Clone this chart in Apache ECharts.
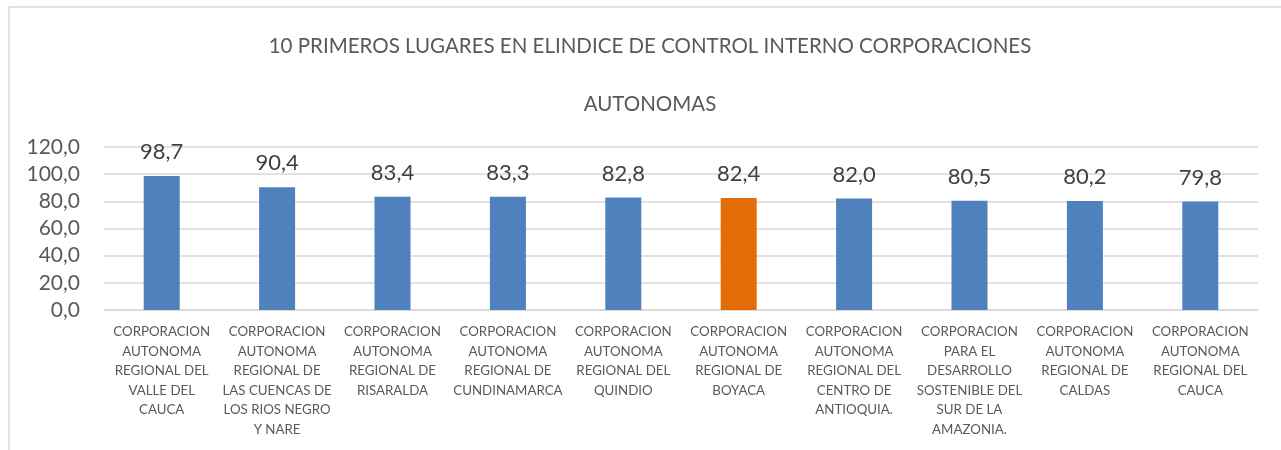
<!DOCTYPE html>
<html>
<head>
<meta charset="utf-8">
<script src="https://cdn.jsdelivr.net/npm/echarts@6/dist/echarts.min.js"></script>
<style>
  body { margin: 0; background: #fff; }
  #chart { width: 1281px; height: 450px; }
</style>
</head>
<body>
<div id="chart"></div>
<script>
// datos del grafico
var categorias = [
  'CORPORACION\nAUTONOMA\nREGIONAL DEL\nVALLE DEL\nCAUCA',
  'CORPORACION\nAUTONOMA\nREGIONAL DE\nLAS CUENCAS DE\nLOS RIOS NEGRO\nY NARE',
  'CORPORACION\nAUTONOMA\nREGIONAL DE\nRISARALDA',
  'CORPORACION\nAUTONOMA\nREGIONAL DE\nCUNDINAMARCA',
  'CORPORACION\nAUTONOMA\nREGIONAL DEL\nQUINDIO',
  'CORPORACION\nAUTONOMA\nREGIONAL DE\nBOYACA',
  'CORPORACION\nAUTONOMA\nREGIONAL DEL\nCENTRO DE\nANTIOQUIA.',
  'CORPORACION\nPARA EL\nDESARROLLO\nSOSTENIBLE DEL\nSUR DE LA\nAMAZONIA.',
  'CORPORACION\nAUTONOMA\nREGIONAL DE\nCALDAS',
  'CORPORACION\nAUTONOMA\nREGIONAL DEL\nCAUCA'
];
var valores = [98.7, 90.4, 83.4, 83.3, 82.8, 82.4, 82.0, 80.5, 80.2, 79.8];
var destacado = 'CORPORACION\nAUTONOMA\nREGIONAL DE\nBOYACA';
var ticksY = [0, 20, 40, 60, 80, 100, 120];

var fuente = 'Lato';
function coma(v) { return Number(v).toFixed(1).replace('.', ','); }

var chart = echarts.init(document.getElementById('chart'));
chart.setOption({
  animation: false,
  title: {
    text: '10 PRIMEROS LUGARES EN ELINDICE DE CONTROL INTERNO CORPORACIONES\nAUTONOMAS',
    left: 650,
    top: 17,
    textAlign: 'center',
    padding: 0,
    textStyle: { fontFamily: fuente, fontSize: 20.5, fontWeight: 'normal', color: '#595959', lineHeight: 58 }
  },
  graphic: [{
    type: 'rect',
    shape: { x: 9, y: 7, width: 1400, height: 600 },
    style: { fill: 'none', stroke: '#d9d9d9', lineWidth: 1.5 },
    silent: true
  }],
  grid: { left: 104, right: 23, top: 147, bottom: 140 },
  xAxis: {
    type: 'category',
    data: categorias,
    axisTick: { show: false },
    axisLine: { lineStyle: { color: '#d9d9d9', width: 1.5 } },
    axisLabel: {
      interval: 0, margin: 12, color: '#595959',
      fontFamily: fuente, fontSize: 13.3, lineHeight: 19.5
    }
  },
  yAxis: {
    type: 'value',
    min: ticksY[0], max: ticksY[ticksY.length - 1], interval: 20,
    axisLine: { show: false },
    axisTick: { show: false },
    splitLine: { lineStyle: { color: '#d9d9d9', width: 1.5 } },
    axisLabel: {
      margin: 24, color: '#595959', fontFamily: fuente, fontSize: 21,
      formatter: coma
    }
  },
  series: [{
    type: 'bar',
    barWidth: 36,
    data: valores.map(function (v, i) {
      return {
        value: v,
        itemStyle: { color: categorias[i] === destacado ? '#e36c09' : '#4f81bd' }
      };
    }),
    label: {
      show: true, position: 'top', distance: 13,
      color: '#404040', fontFamily: fuente, fontSize: 22,
      formatter: function (p) { return coma(p.value); }
    }
  }]
});
</script>
</body>
</html>
